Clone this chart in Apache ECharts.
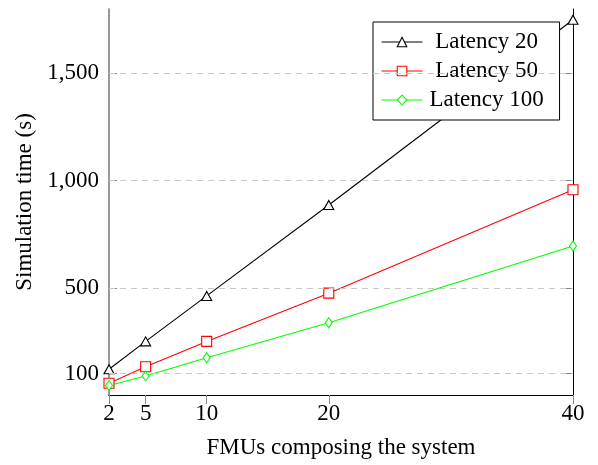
<!DOCTYPE html>
<html>
<head>
<meta charset="utf-8">
<script src="https://cdn.jsdelivr.net/npm/echarts@6/dist/echarts.min.js"></script>
<style>html,body{margin:0;padding:0;background:#fff;}#c{width:598px;height:465px;}</style>
</head>
<body>
<div id="c"></div>
<script>
const xValues = [2, 5, 10, 20, 40];
const latency20 = [120, 250, 462, 886, 1750];
const latency50 = [55, 132, 250, 475, 957];
const latency100 = [44, 89, 174, 337, 695];
const xTicks = [2, 5, 10, 20, 40];
const yTicks = [100, 500, 1000, 1500];
const seriesNames = ['Latency 20', 'Latency 50', 'Latency 100'];

const FONT = 'Liberation Serif';
const FS = 23;
const pair = (vals) => xValues.map((x, i) => [x, vals[i]]);
const fmt = (v) => String(v).replace(/\B(?=(\d{3})+(?!\d))/g, ',');

const chart = echarts.init(document.getElementById('c'), null, {renderer: 'canvas'});
const mkSeries = (name, vals, color, symbol, size) => ({
  name, type: 'line', data: pair(vals), xAxisIndex: 0, yAxisIndex: 0,
  symbol, symbolSize: size, showSymbol: true,
  lineStyle: {color, width: 1.1},
  itemStyle: {color: '#fff', borderColor: color, borderWidth: 1.1},
  emphasis: {disabled: true}, animation: false, z: 3
});

chart.setOption({
  animation: false,
  backgroundColor: '#fff',
  textStyle: {fontFamily: FONT},
  grid: {left: 109, right: 25, top: 9, bottom: 70, containLabel: false},
  legend: {
    data: seriesNames, orient: 'vertical', left: 373, top: 22,
    backgroundColor: '#fff', borderColor: '#000', borderWidth: 1, borderRadius: 0,
    padding: [8, 14, 8, 8], itemWidth: 41, itemHeight: 12, itemGap: 5,
    lineStyle: {width: 1.1},
    itemStyle: {borderWidth: 1.1},
    formatter: '{a|{name}}',
    textStyle: {fontFamily: FONT, fontSize: FS, color: '#000', lineHeight: 24,
      rich: {a: {width: 118, height: 24, align: 'center', fontFamily: FONT, fontSize: FS, lineHeight: 24, color: '#000'}}}
  },
  xAxis: [{
    type: 'value', min: 2, max: 40, position: 'bottom',
    name: 'FMUs composing the system', nameLocation: 'middle', nameGap: 41,
    nameTextStyle: {fontFamily: FONT, fontSize: FS, color: '#000'},
    axisLine: {show: true, lineStyle: {color: '#000', width: 1}},
    axisTick: {show: false, customValues: xTicks},
    axisLabel: {customValues: xTicks, fontFamily: FONT, fontSize: FS, color: '#000', margin: 7},
    splitLine: {show: false}
  }, {
    type: 'value', min: 2, max: 40, position: 'top',
    axisLine: {show: true, lineStyle: {color: '#000', width: 1}},
    axisTick: {show: true, inside: true, length: 9, customValues: xTicks, lineStyle: {color: '#888'}},
    axisLabel: {show: false}, splitLine: {show: false}
  }],
  yAxis: [{
    type: 'value', min: 0, max: 1800, position: 'left',
    name: 'Simulation time (s)', nameLocation: 'middle', nameGap: 72,
    nameTextStyle: {fontFamily: FONT, fontSize: FS, color: '#000'},
    axisLine: {show: true, lineStyle: {color: '#777', width: 1.5}},
    axisTick: {show: true, inside: true, length: 8, customValues: yTicks, lineStyle: {color: '#888'}},
    axisLabel: {customValues: yTicks, formatter: fmt, fontFamily: FONT, fontSize: FS, color: '#000', margin: 10},
    splitLine: {show: false}
  }, {
    type: 'value', min: 0, max: 1800, position: 'right',
    axisLine: {show: true, lineStyle: {color: '#000', width: 1}},
    axisTick: {show: true, inside: true, length: 9, customValues: yTicks, lineStyle: {color: '#888'}},
    axisLabel: {show: false}, splitLine: {show: false}
  }],
  series: [
    {
      type: 'line', data: [], xAxisIndex: 0, yAxisIndex: 0, silent: true,
      markLine: {
        silent: true, symbol: 'none', label: {show: false},
        lineStyle: {color: '#c8c8c8', type: [6, 5], width: 1},
        data: yTicks.map(v => ({yAxis: v}))
      }
    },
    mkSeries(seriesNames[0], latency20, '#000000', 'triangle', [10, 9]),
    mkSeries(seriesNames[1], latency50, '#ff0000', 'rect', [10, 10]),
    mkSeries(seriesNames[2], latency100, '#00ff00', 'diamond', [7, 10])
  ]
});
</script>
</body>
</html>
